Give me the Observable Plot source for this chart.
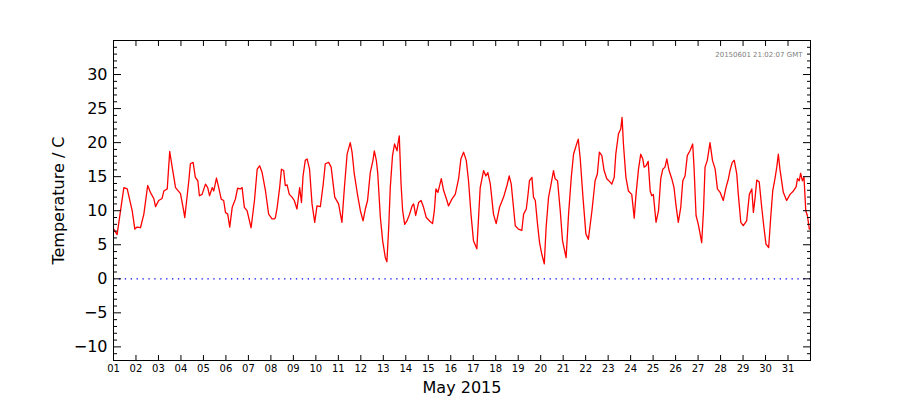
<!DOCTYPE html>
<html>
<head>
<meta charset="utf-8">
<script src="https://cdn.jsdelivr.net/npm/d3@7"></script>
<script src="https://cdn.jsdelivr.net/npm/@observablehq/plot@0.6"></script>
<style>
  html, body { margin: 0; padding: 0; background: #fff; }
</style>
</head>
<body>
<div id="chart"></div>
<script>
// Days elapsed since 2015-05-01 00:00 GMT
const dayOffset = [
  0.01,0.16,0.46,0.61,0.83,0.95,1.05,1.20,1.35,1.52,1.64,1.79,1.87,2.01,2.16,2.24,2.39,2.50,2.61,2.76,2.98,
  3.12,3.17,3.35,3.42,3.54,3.64,3.75,3.82,3.94,4.09,4.19,4.27,4.39,4.46,4.58,4.68,4.79,4.90,4.98,
  5.08,5.17,5.28,5.42,5.52,5.64,5.72,5.82,5.94,6.12,6.27,6.39,6.50,6.61,6.76,6.90,7.05,7.16,7.20,
  7.28,7.39,7.47,7.57,7.64,7.72,7.82,7.94,8.04,8.16,8.28,8.36,8.43,8.53,8.61,8.72,8.83,8.95,
  9.05,9.20,9.32,9.42,9.57,9.68,9.84,10.01,10.16,10.27,10.39,10.53,10.61,10.71,10.86,10.98,
  11.10,11.20,11.30,11.42,11.54,11.60,11.69,11.75,11.87,11.97,12.09,12.16,12.24,12.31,12.41,12.50,
  12.61,12.65,12.71,12.79,12.86,12.95,13.05,13.17,13.28,13.35,13.44,13.57,13.68,13.79,13.91,
  14.06,14.19,14.27,14.34,14.43,14.58,14.68,14.83,14.90,15.05,15.20,15.35,15.45,15.57,15.69,15.79,15.90,
  16.01,16.16,16.31,16.46,16.56,16.65,16.76,16.90,17.02,17.17,17.35,17.50,17.60,17.69,17.76,17.87,
  18.01,18.16,18.24,18.36,18.43,18.50,18.61,18.68,18.76,18.86,18.95,19.05,19.16,19.24,19.35,19.45,
  19.57,19.64,19.75,19.87,19.97,20.13,20.24,20.36,20.46,20.58,20.67,20.76,20.88,21.01,21.12,21.28,
  21.42,21.52,21.61,21.72,21.82,21.94,22.09,22.16,22.27,22.34,22.46,22.56,22.62,22.68,22.79,22.90,
  23.05,23.16,23.24,23.35,23.45,23.54,23.60,23.69,23.78,23.87,23.94,24.01,24.13,24.24,24.34,24.43,
  24.53,24.61,24.71,24.83,24.93,25.02,25.12,25.23,25.32,25.42,25.52,25.64,25.76,25.82,25.91,
  26.01,26.09,26.16,26.24,26.31,26.41,26.53,26.64,26.76,26.86,26.98,27.12,27.24,27.35,27.42,27.52,
  27.61,27.72,27.79,27.90,28.01,28.16,28.28,28.39,28.46,28.53,28.61,28.72,28.83,28.93,
  29.02,29.14,29.23,29.32,29.42,29.50,29.57,29.64,29.79,29.94,30.09,30.24,30.36,30.42,30.50,
  30.56,30.64,30.71,30.79,30.86,30.95
];
// Temperature / C
const temperature = [
  7.3,6.5,13.4,13.2,10.0,7.3,7.6,7.5,9.5,13.7,12.7,11.8,10.6,11.5,11.8,12.9,13.2,18.7,16.4,13.4,12.5,
  10.0,9.0,14.4,16.9,17.1,14.9,14.4,12.2,12.4,13.9,13.4,12.2,13.4,12.9,14.8,13.4,11.7,11.5,9.75,
  9.5,7.6,10.5,11.7,13.3,13.2,13.4,10.5,10.0,7.5,11.5,16.1,16.6,15.6,12.9,9.5,8.8,8.8,9.0,
  10.5,13.4,16.1,15.9,13.7,13.8,12.4,12.0,11.5,10.25,13.4,11.2,15.1,17.4,17.6,16.1,11.0,8.3,
  10.7,10.6,13.7,16.9,17.1,16.4,12.0,11.0,8.3,13.4,18.3,20.0,18.6,15.4,12.2,10.0,
  8.5,10.25,11.5,15.6,17.4,18.8,17.4,15.6,9.0,5.6,3.1,2.5,7.5,13.4,18.1,19.8,
  18.8,19.8,21.0,13.9,10.0,8.0,8.5,9.5,10.7,11.0,9.3,11.2,11.5,10.5,9.0,
  8.5,8.1,10.0,13.2,12.7,14.7,13.0,11.5,10.7,11.7,12.4,14.7,17.6,18.6,17.4,14.4,9.5,
  5.6,4.4,13.4,15.9,15.1,15.6,13.9,9.5,8.1,10.5,12.0,13.7,15.1,13.9,11.5,7.8,
  7.3,7.1,9.5,10.25,12.2,14.4,14.9,12.0,11.5,8.0,5.3,3.6,2.2,7.5,12.0,13.7,
  15.9,14.7,14.4,10.0,5.6,3.1,9.5,14.9,18.3,19.6,20.5,17.6,12.0,6.6,5.8,10.0,
  14.4,15.4,18.6,18.1,15.9,14.7,14.2,13.9,14.9,18.3,21.3,22.0,23.7,19.8,14.9,12.9,
  12.4,8.9,12.4,16.1,18.3,17.6,16.4,16.6,17.25,12.9,12.2,12.4,8.3,10.0,14.7,16.1,
  16.4,17.6,15.9,14.7,13.4,10.7,8.3,10.5,14.4,15.1,18.1,18.8,19.8,16.4,9.3,
  8.0,6.6,5.3,10.0,16.4,17.4,20.0,17.4,16.1,13.2,12.7,11.5,13.4,14.7,15.9,17.1,
  17.4,15.4,12.4,8.3,7.8,8.5,12.4,13.2,9.75,11.7,14.5,14.2,10.5,7.5,
  5.1,4.6,9.0,12.9,14.7,16.4,18.3,16.1,12.7,11.5,12.4,12.9,13.5,14.7,14.4,
  15.5,14.4,14.9,10.0,9.3,7.3
];
const xTickDays = d3.range(1, 32);          // tick labels 01 .. 31
const yMajorTicks = [-10, -5, 0, 5, 10, 15, 20, 25, 30];
const yMinorTicks = d3.range(-12, 36).filter(v => v % 5 !== 0);
const zeroLevel = [0];
const xTitle = ["May 2015"];
const yTitle = ["Temperature / C"];
const stamp = ["20150601 21:02:07 GMT"];

const t0 = Date.UTC(2015, 4, 1);
const data = dayOffset.map((d, i) => ({date: new Date(t0 + d * 864e5), temp: temperature[i]}));
const xTicks = xTickDays.map(d => new Date(Date.UTC(2015, 4, d)));
const fmtY = d3.format("d");
const fmtX = d3.utcFormat("%d");

const chart = Plot.plot({
  width: 900,
  height: 400,
  marginLeft: 113,
  marginRight: 90,
  marginTop: 40,
  marginBottom: 40,
  style: {fontFamily: "'DejaVu Sans', sans-serif", background: "#fff", color: "#000", overflow: "visible"},
  x: {type: "utc", domain: [new Date(t0), new Date(Date.UTC(2015, 5, 1))]},
  y: {domain: [-12, 35]},
  marks: [
    Plot.ruleY(zeroLevel, {stroke: "blue", strokeWidth: 1.3, strokeDasharray: "1.3,4.6"}),
    Plot.line(data, {x: "date", y: "temp", stroke: "red", strokeWidth: 1.3}),
    Plot.frame({stroke: "#000", strokeWidth: 1}),
    // y axes: major (left with labels, right ticks only) + minor
    Plot.axisY(yMajorTicks, {anchor: "left", tickSize: -8, tickPadding: 14, fontSize: 16, tickFormat: fmtY, label: null}),
    Plot.axisY(yMajorTicks, {anchor: "right", tickSize: -8, fill: "none", label: null}),
    Plot.axisY(yMinorTicks, {anchor: "left", tickSize: -4, fill: "none", label: null}),
    Plot.axisY(yMinorTicks, {anchor: "right", tickSize: -4, fill: "none", label: null}),
    // x axes
    Plot.axisX(xTicks, {anchor: "bottom", tickSize: -5, tickPadding: 9, fontSize: 10, tickFormat: fmtX, label: null}),
    Plot.axisX(xTicks, {anchor: "top", tickSize: -5, fill: "none", label: null}),
    // titles
    Plot.text(xTitle, {frameAnchor: "bottom", dy: 27, fontSize: 16, fill: "#000", textAnchor: "middle", lineAnchor: "middle"}),
    Plot.text(yTitle, {frameAnchor: "left", dx: -55, rotate: -90, fontSize: 16, fill: "#000", textAnchor: "middle", lineAnchor: "middle"}),
    Plot.text(stamp, {frameAnchor: "top-right", dx: -8, dy: 14, fontSize: 7, fill: "#808080", textAnchor: "end", lineAnchor: "middle"})
  ]
});
document.getElementById("chart").appendChild(chart);
</script>
</body>
</html>
